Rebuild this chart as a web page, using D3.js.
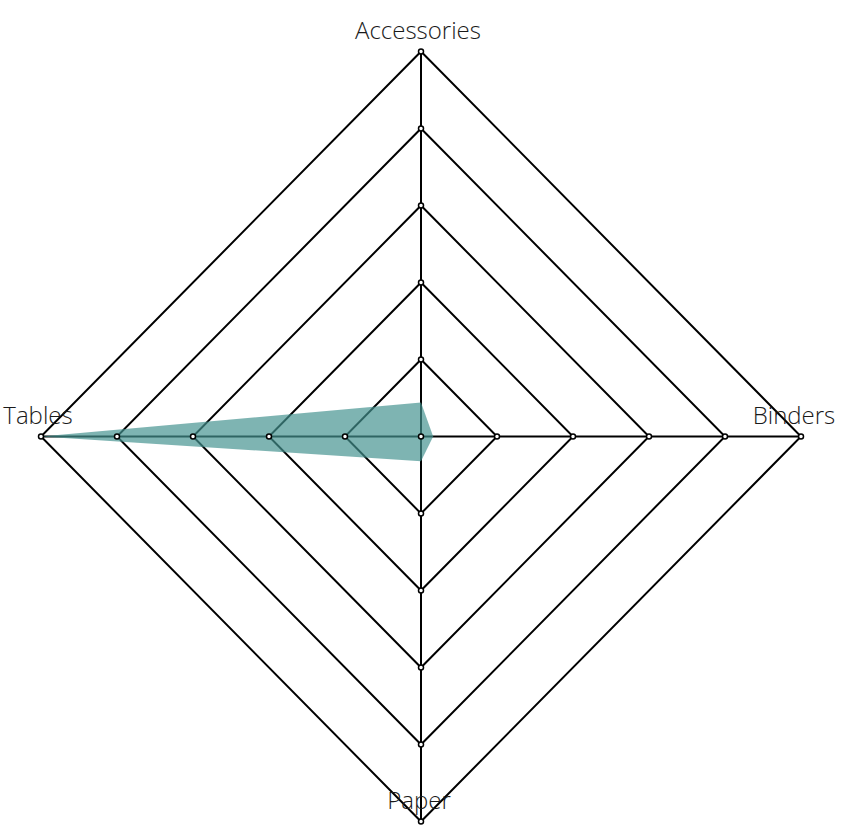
<!DOCTYPE html>
<html><head><meta charset="utf-8">
<script src="https://cdn.jsdelivr.net/npm/d3@7"></script>
<style>html,body{margin:0;padding:0;background:#fff;}</style>
</head><body>
<svg id="chart" width="846" height="838"></svg>
<script>
const categories = ["Accessories", "Binders", "Paper", "Tables"];
const values = [0.44, 0.16, 0.32, 5];
const ringLevels = [1, 2, 3, 4, 5];

const svg = d3.select("#chart");
const cx = 421, cy = 436.5, rx = 380, ry = 385;
const maxV = 5;
const angle = d3.scalePoint().domain(categories).range([0, 2 * Math.PI * 3 / 4]);
const rScaleX = d3.scaleLinear().domain([0, maxV]).range([0, rx]);
const rScaleY = d3.scaleLinear().domain([0, maxV]).range([0, ry]);
function pt(cat, v) {
  const a = angle(cat);
  return [cx + Math.sin(a) * rScaleX(v), cy - Math.cos(a) * rScaleY(v)];
}

const g = svg.append("g");
categories.forEach(c => {
  const [x, y] = pt(c, maxV);
  g.append("line").attr("x1", cx).attr("y1", cy).attr("x2", x).attr("y2", y)
    .attr("stroke", "#000").attr("stroke-width", 2);
});
ringLevels.forEach(l => {
  g.append("path")
    .attr("d", d3.line()(categories.map(c => pt(c, l))) + "Z")
    .attr("fill", "none").attr("stroke", "#000").attr("stroke-width", 2);
});
svg.append("path")
  .attr("d", d3.line()(categories.map((c, i) => pt(c, values[i]))) + "Z")
  .attr("fill", "rgb(68,147,143)").attr("fill-opacity", 0.69).attr("stroke", "none");
const pts = [[cx, cy]];
ringLevels.forEach(l => categories.forEach(c => pts.push(pt(c, l))));
svg.selectAll("circle.v").data(pts).enter().append("circle")
  .attr("cx", d => d[0]).attr("cy", d => d[1]).attr("r", 2.5)
  .attr("fill", "#fff").attr("stroke", "#000").attr("stroke-width", 1.5);
const labelShift = {"Accessories": -3, "Binders": -7, "Paper": -2, "Tables": -3};
categories.forEach(c => {
  const [x, y] = pt(c, maxV);
  svg.append("text").attr("x", x + labelShift[c]).attr("y", y - 13)
    .attr("text-anchor", "middle")
    .attr("font-family", "'Open Sans', sans-serif").attr("font-weight", 300).attr("font-size", 24)
    .attr("fill", "#1a1a1a").text(c);
});
</script>
</body></html>
